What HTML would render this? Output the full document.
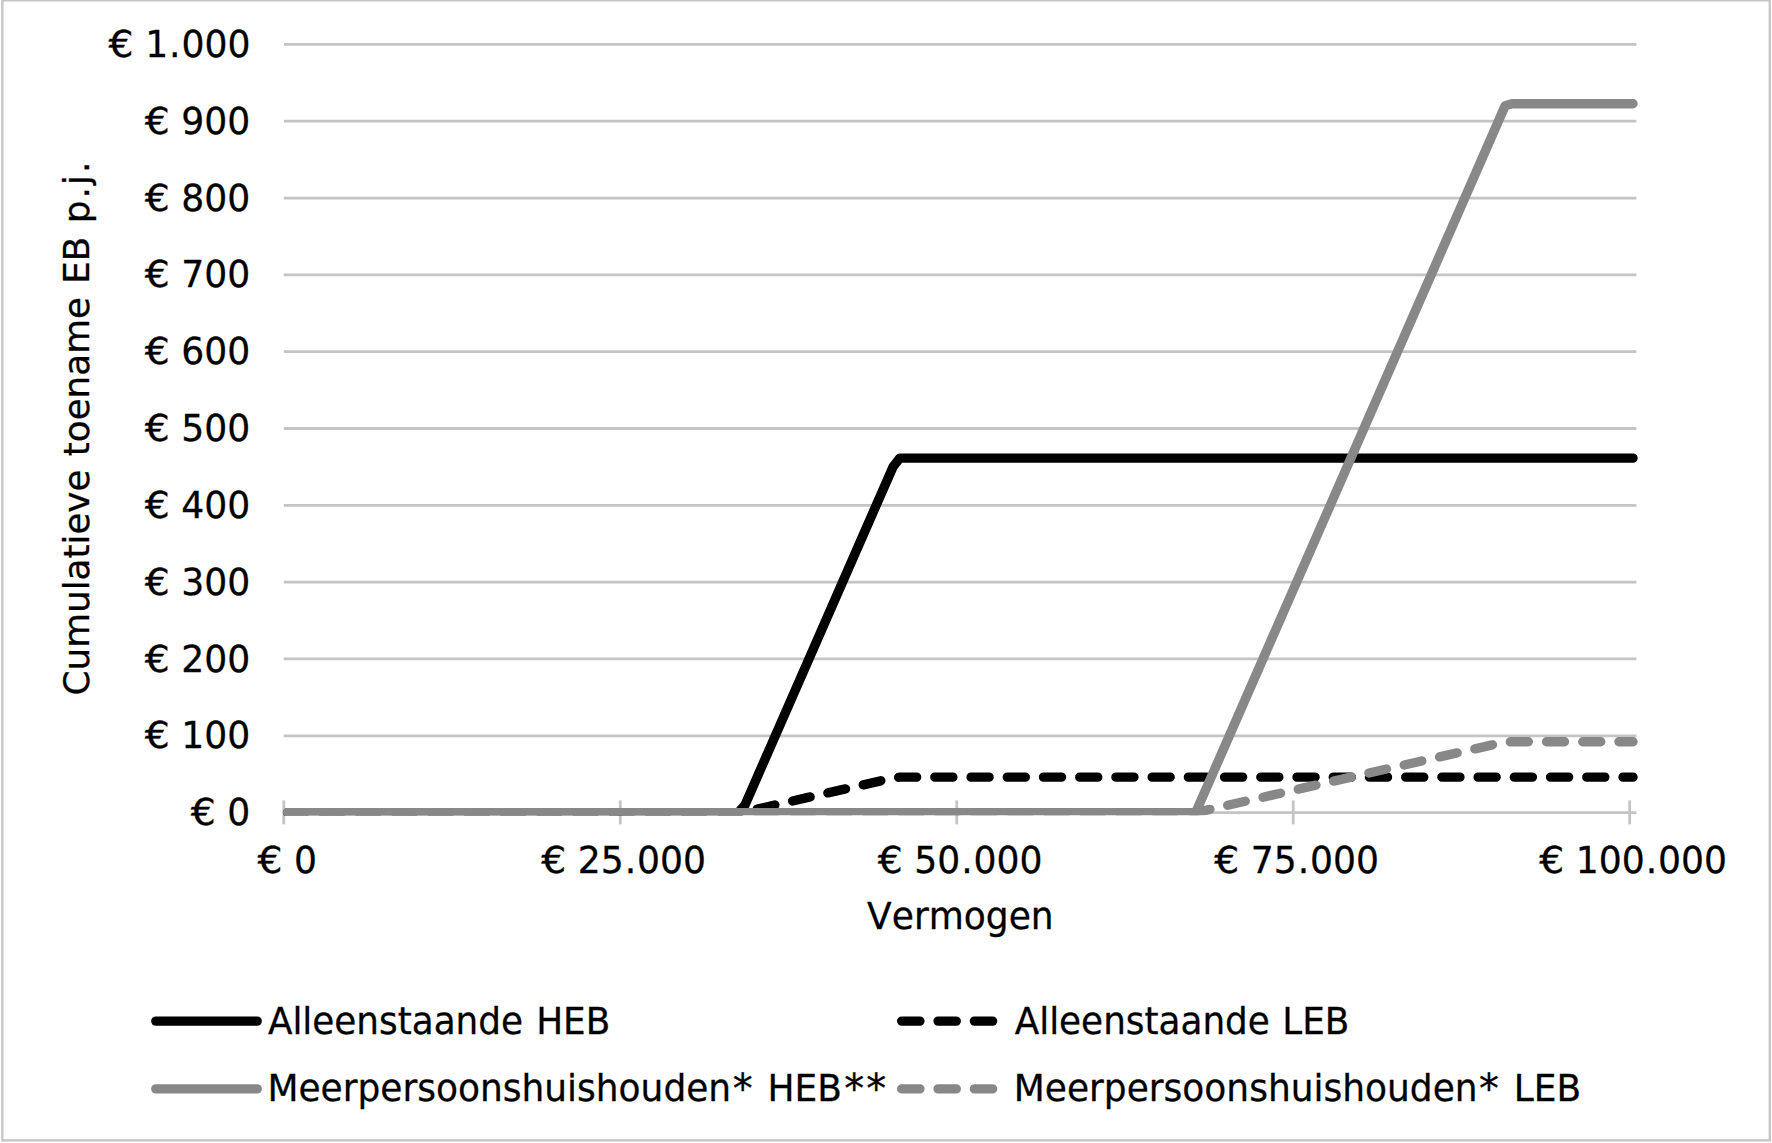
<!DOCTYPE html>
<html lang="nl"><head><meta charset="utf-8"><title>Cumulatieve toename EB p.j. naar vermogen</title>
<style>html,body{margin:0;padding:0;background:#fff}body{width:1772px;height:1143px;overflow:hidden}svg{display:block}text{fill:#000;stroke:#000;stroke-width:0.3px;stroke-linejoin:round;white-space:pre;font-kerning:none;font-variant-ligatures:none}</style>
</head><body>
<svg width="1772" height="1143" viewBox="0 0 1772 1143" font-family="'DejaVu Sans', 'Liberation Sans', sans-serif">
<rect x="0" y="0" width="1772" height="1143" fill="#fff"/>
<rect x="2.35" y="0.3" width="1767.45" height="1140.1" fill="none" stroke="#c6c6c6" stroke-width="2.4"/>
<g stroke="#c4c4c4" stroke-width="2.8" fill="none">
<line x1="283.8" y1="812.60" x2="1636.4" y2="812.60"/>
<line x1="283.8" y1="735.78" x2="1636.4" y2="735.78"/>
<line x1="283.8" y1="658.96" x2="1636.4" y2="658.96"/>
<line x1="283.8" y1="582.14" x2="1636.4" y2="582.14"/>
<line x1="283.8" y1="505.32" x2="1636.4" y2="505.32"/>
<line x1="283.8" y1="428.50" x2="1636.4" y2="428.50"/>
<line x1="283.8" y1="351.68" x2="1636.4" y2="351.68"/>
<line x1="283.8" y1="274.86" x2="1636.4" y2="274.86"/>
<line x1="283.8" y1="198.04" x2="1636.4" y2="198.04"/>
<line x1="283.8" y1="121.22" x2="1636.4" y2="121.22"/>
<line x1="283.8" y1="44.40" x2="1636.4" y2="44.40"/>
<line x1="283.80" y1="800.4" x2="283.80" y2="824.4"/>
<line x1="620.27" y1="800.4" x2="620.27" y2="824.4"/>
<line x1="956.74" y1="800.4" x2="956.74" y2="824.4"/>
<line x1="1293.20" y1="800.4" x2="1293.20" y2="824.4"/>
<line x1="1629.67" y1="800.4" x2="1629.67" y2="824.4"/>
</g>
<defs><clipPath id="plot"><rect x="270" y="30" width="1380" height="785.3"/></clipPath></defs>
<g fill="none" stroke-width="9.4" stroke-linecap="round" stroke-linejoin="round" clip-path="url(#plot)">
<polyline stroke="#000" points="287.60,812.60 738.31,812.60 745.04,804.86 893.03,466.85 899.76,458.15 1633.00,458.15"/>
<polyline stroke="#000" stroke-dasharray="18 18.22" stroke-dashoffset="0.8" points="287.60,812.60 738.31,812.60 745.04,811.83 893.03,778.02 899.76,777.16 1633.00,777.16"/>
<polyline stroke="#888" points="287.60,812.60 1189.02,812.60 1195.75,812.48 1505.19,105.73 1511.91,103.71 1633.00,103.71"/>
<polyline stroke="#888" stroke-dasharray="18 18.22" stroke-dashoffset="0.8" points="287.60,812.60 1189.02,812.60 1195.75,812.59 1505.19,741.91 1511.91,741.71 1633.00,741.71"/>
</g>
<g fill="none" stroke-width="9.4" stroke-linecap="round" stroke-linejoin="round">
<line stroke="#000" x1="155.8" y1="1021.1" x2="257.2" y2="1021.1"/>
<line stroke="#888" x1="155.8" y1="1088.9" x2="257.2" y2="1088.9"/>
<line stroke="#000" stroke-dasharray="18.2 18.15" x1="901.7" y1="1021.1" x2="1003" y2="1021.1"/>
<line stroke="#888" stroke-dasharray="18.2 18.15" x1="901.7" y1="1088.9" x2="1003" y2="1088.9"/>
</g>
<text transform="translate(190.80 825.20) scale(0.9640 1)" font-size="37.50"><tspan textLength="26" lengthAdjust="spacingAndGlyphs">€</tspan> 0</text>
<text transform="translate(144.80 748.38) scale(0.9640 1)" font-size="37.50"><tspan textLength="26" lengthAdjust="spacingAndGlyphs">€</tspan> 100</text>
<text transform="translate(144.80 671.56) scale(0.9640 1)" font-size="37.50"><tspan textLength="26" lengthAdjust="spacingAndGlyphs">€</tspan> 200</text>
<text transform="translate(144.80 594.74) scale(0.9640 1)" font-size="37.50"><tspan textLength="26" lengthAdjust="spacingAndGlyphs">€</tspan> 300</text>
<text transform="translate(144.80 517.92) scale(0.9640 1)" font-size="37.50"><tspan textLength="26" lengthAdjust="spacingAndGlyphs">€</tspan> 400</text>
<text transform="translate(144.80 441.10) scale(0.9640 1)" font-size="37.50"><tspan textLength="26" lengthAdjust="spacingAndGlyphs">€</tspan> 500</text>
<text transform="translate(144.80 364.28) scale(0.9640 1)" font-size="37.50"><tspan textLength="26" lengthAdjust="spacingAndGlyphs">€</tspan> 600</text>
<text transform="translate(144.80 287.46) scale(0.9640 1)" font-size="37.50"><tspan textLength="26" lengthAdjust="spacingAndGlyphs">€</tspan> 700</text>
<text transform="translate(144.80 210.64) scale(0.9640 1)" font-size="37.50"><tspan textLength="26" lengthAdjust="spacingAndGlyphs">€</tspan> 800</text>
<text transform="translate(144.80 133.82) scale(0.9640 1)" font-size="37.50"><tspan textLength="26" lengthAdjust="spacingAndGlyphs">€</tspan> 900</text>
<text transform="translate(108.61 57.00) scale(0.9640 1)" font-size="37.50"><tspan textLength="26" lengthAdjust="spacingAndGlyphs">€</tspan> 1<tspan dx="0.9">.</tspan><tspan dx="0.9">000</tspan></text>
<text transform="translate(257.45 873.40) scale(0.9640 1)" font-size="37.50"><tspan textLength="26" lengthAdjust="spacingAndGlyphs">€</tspan> 0</text>
<text transform="translate(541.32 873.40) scale(0.9640 1)" font-size="37.50"><tspan textLength="26" lengthAdjust="spacingAndGlyphs">€</tspan> 25<tspan dx="0.9">.</tspan><tspan dx="0.9">000</tspan></text>
<text transform="translate(877.79 873.40) scale(0.9640 1)" font-size="37.50"><tspan textLength="26" lengthAdjust="spacingAndGlyphs">€</tspan> 50<tspan dx="0.9">.</tspan><tspan dx="0.9">000</tspan></text>
<text transform="translate(1214.26 873.40) scale(0.9640 1)" font-size="37.50"><tspan textLength="26" lengthAdjust="spacingAndGlyphs">€</tspan> 75<tspan dx="0.9">.</tspan><tspan dx="0.9">000</tspan></text>
<text transform="translate(1539.23 873.40) scale(0.9640 1)" font-size="37.50"><tspan textLength="26" lengthAdjust="spacingAndGlyphs">€</tspan> 100<tspan dx="0.9">.</tspan><tspan dx="0.9">000</tspan></text>
<text transform="translate(960.40 929.00) scale(0.9793 1)" text-anchor="middle" font-size="36.80">Vermogen</text>
<text transform="translate(89 695.4) rotate(-90) scale(0.9711 0.975)" font-size="36.80">Cumulatieve<tspan dx="2"> toename</tspan><tspan dx="2"> EB</tspan><tspan dx="2 0 2.2 2.2 2.2"> p.j.</tspan></text>
<text transform="translate(267.90 1033.60) scale(0.9732 1)" font-size="36.80">Alleenstaande<tspan dx="1.8"> HEB</tspan></text>
<text transform="translate(267.40 1101.30) scale(0.9779 1)" font-size="36.80">Meerpersoonshuishouden<tspan font-size="40.7" dx="1.5" dy="1.7">*</tspan><tspan dx="3.5" dy="-1.7"> HEB</tspan><tspan font-size="40.7" dx="2.5 2.2" dy="1.7">**</tspan></text>
<text transform="translate(1014.70 1033.60) scale(0.9732 1)" font-size="36.80">Alleenstaande<tspan dx="1.0"> LEB</tspan></text>
<text transform="translate(1013.80 1101.30) scale(0.9779 1)" font-size="36.80">Meerpersoonshuishouden<tspan font-size="40.7" dx="1.5" dy="1.7">*</tspan><tspan dx="3.5" dy="-1.7"> LEB</tspan></text>
</svg>
</body></html>
